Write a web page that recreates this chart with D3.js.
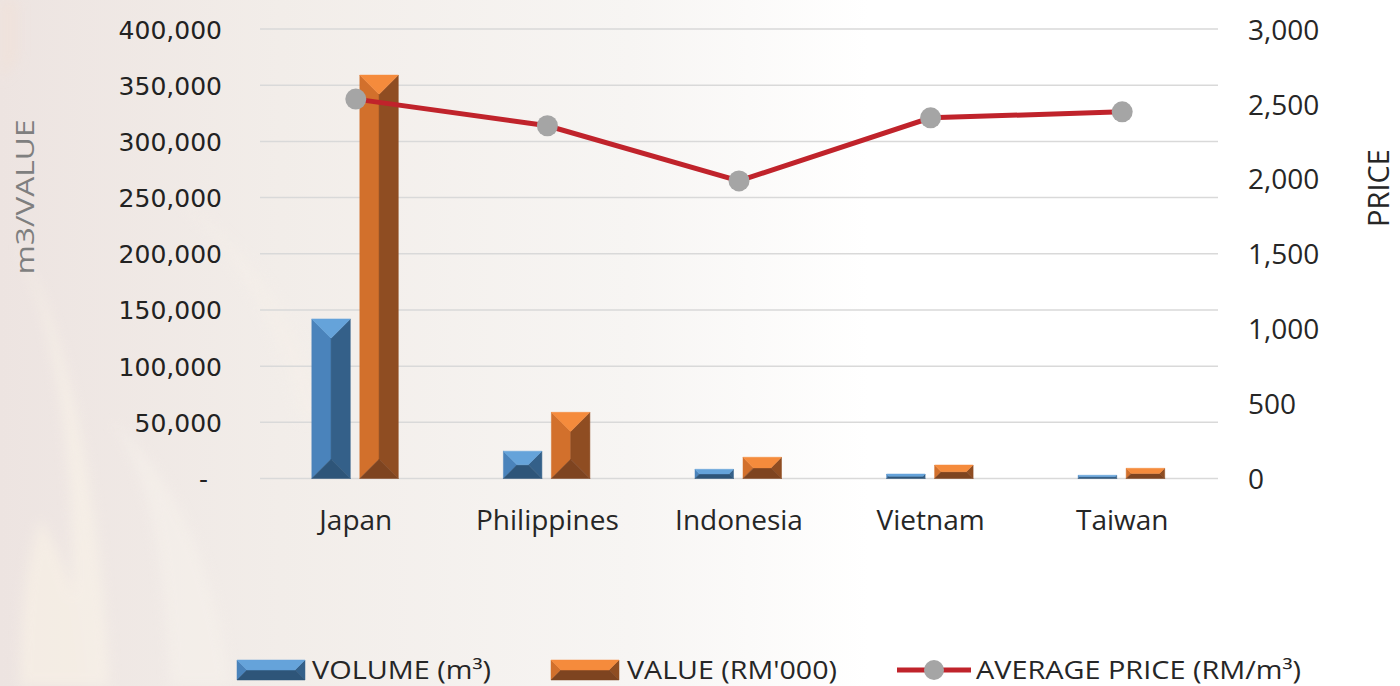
<!DOCTYPE html>
<html>
<head>
<meta charset="utf-8">
<script src="https://cdn.jsdelivr.net/npm/d3@7"></script>
<style>
  html, body { margin: 0; padding: 0; background: #ffffff; }
  svg { display: block; }
</style>
</head>
<body>
<svg id="chart" width="1400" height="686"></svg>
<script>
// data
const categories = ["Japan", "Philippines", "Indonesia", "Vietnam", "Taiwan"];
const volume = [142000, 24300, 8200, 4000, 2900];      // m3
const value = [359000, 58900, 18900, 12000, 9100];     // RM'000
const avgPrice = [2532, 2354, 1986, 2407, 2447];       // RM/m3
const leftTicks = [0, 50000, 100000, 150000, 200000, 250000, 300000, 350000, 400000];
const rightTicks = [0, 500, 1000, 1500, 2000, 2500, 3000];

const svg = d3.select("#chart");
const width = +svg.attr("width");
const height = +svg.attr("height");

const plot = { left: 260, right: 1218, top: 29, bottom: 478.5 };

// faded background picture
const defs = svg.append("defs");
const bg = defs.append("linearGradient").attr("id", "bgGrad")
    .attr("x1", 0).attr("x2", 1).attr("y1", 0).attr("y2", 0);
bg.append("stop").attr("offset", "0%").attr("stop-color", "#ede4e1");
bg.append("stop").attr("offset", "20%").attr("stop-color", "#f2ede9");
bg.append("stop").attr("offset", "45%").attr("stop-color", "#f7f5f3");
bg.append("stop").attr("offset", "62%").attr("stop-color", "#ffffff");
bg.append("stop").attr("offset", "100%").attr("stop-color", "#ffffff");
defs.append("filter").attr("id", "soft")
    .append("feGaussianBlur").attr("stdDeviation", 6);

svg.append("rect").attr("width", width).attr("height", height).attr("fill", "url(#bgGrad)");

const leaves = svg.append("g").attr("filter", "url(#soft)").attr("opacity", 0.6);
leaves.append("path")
    .attr("d", "M15,240 C60,330 80,480 70,686 L110,686 C100,500 70,330 15,240 Z")
    .attr("fill", "#f9f3e8");
leaves.append("path")
    .attr("d", "M40,520 C70,560 80,620 85,686 L20,686 C20,620 25,560 40,520 Z")
    .attr("fill", "#f9f2e6");
leaves.append("path")
    .attr("d", "M110,420 C150,470 165,560 170,686 L230,686 C215,560 170,470 110,420 Z")
    .attr("fill", "#f6f1eb");
leaves.append("path")
    .attr("d", "M0,0 L18,0 L18,60 L0,80 Z")
    .attr("fill", "#f1e1d8");
leaves.append("path")
    .attr("d", "M180,200 C240,260 280,330 300,420 L330,420 C300,320 250,250 180,200 Z")
    .attr("fill", "#f5efe9");

// scales
const x = d3.scaleBand().domain(categories).range([plot.left, plot.right]);
const yL = d3.scaleLinear().domain([0, 400000]).range([plot.bottom, plot.top]);
const yR = d3.scaleLinear().domain([0, 3000]).range([plot.bottom, plot.top]);
const cx = d => x(d) + x.bandwidth() / 2;

// gridlines
svg.append("g")
    .selectAll("line")
    .data(leftTicks)
    .enter()
    .append("line")
    .attr("x1", plot.left).attr("x2", plot.right)
    .attr("y1", d => yL(d)).attr("y2", d => yL(d))
    .attr("stroke", "#d9d9d9")
    .attr("stroke-width", 1.5);

// left axis
const leftAxis = svg.append("g")
    .attr("transform", `translate(${plot.left - 38},0)`)
    .call(d3.axisLeft(yL).tickValues(leftTicks).tickSize(0).tickPadding(0)
        .tickFormat(d => d === 0 ? "-" : d3.format(",")(d)));
leftAxis.select(".domain").remove();
leftAxis.selectAll("text")
    .attr("font-family", "'DejaVu Sans', Verdana, sans-serif")
    .attr("font-size", 25)
    .attr("fill", "#222222")
    .attr("dy", "0.36em")
    .attr("dx", d => d === 0 ? -14 : 0);

// right axis
const rightAxis = svg.append("g")
    .attr("transform", `translate(${plot.right + 30},0)`)
    .call(d3.axisRight(yR).tickValues(rightTicks).tickSize(0).tickPadding(0)
        .tickFormat(d3.format(",")));
rightAxis.select(".domain").remove();
rightAxis.selectAll("text")
    .attr("font-family", "'Open Sans', sans-serif")
    .attr("font-size", 28)
    .attr("fill", "#262626")
    .attr("dy", "0.36em");

// category labels
const xAxis = svg.append("g")
    .attr("transform", `translate(0,${plot.bottom})`)
    .call(d3.axisBottom(x).tickSize(0).tickPadding(0));
xAxis.select(".domain").remove();
xAxis.selectAll("text")
    .attr("font-family", "'Open Sans', sans-serif")
    .attr("font-size", 28)
    .attr("fill", "#262626")
    .attr("dy", 0)
    .attr("y", 51);

// axis titles
svg.append("text")
    .attr("transform", "translate(34,197) rotate(-90)")
    .attr("text-anchor", "middle")
    .attr("font-family", "'Open Sans', sans-serif")
    .attr("font-size", 26)
    .attr("fill", "#7f7f7f")
    .attr("textLength", 155)
    .attr("lengthAdjust", "spacingAndGlyphs")
    .text("m3/VALUE");

svg.append("text")
    .attr("transform", "translate(1389,188) rotate(-90)")
    .attr("text-anchor", "middle")
    .attr("font-family", "'Open Sans', sans-serif")
    .attr("font-size", 29)
    .attr("fill", "#262626")
    .text("PRICE");

// bevelled bar: four facets around a collapsed inner rectangle
function bevel(g, bx, by, bw, bh, c) {
    const b = Math.min(bw, bh) / 2;
    const x0 = bx, x1 = bx + bw, y0 = by, y1 = by + bh;
    const ix0 = x0 + b, ix1 = x1 - b, iy0 = y0 + b, iy1 = y1 - b;
    const faces = [
        { pts: [[x0, y0], [x0, y1], [ix0, iy1], [ix0, iy0]], fill: c.left },
        { pts: [[x1, y0], [x1, y1], [ix1, iy1], [ix1, iy0]], fill: c.right },
        { pts: [[x0, y1], [x1, y1], [ix1, iy1], [ix0, iy1]], fill: c.bottom },
        { pts: [[x0, y0], [x1, y0], [ix1, iy0], [ix0, iy0]], fill: c.top }
    ];
    g.selectAll(null)
        .data(faces)
        .enter()
        .append("polygon")
        .attr("points", d => d.pts.map(p => p.join(",")).join(" "))
        .attr("fill", d => d.fill)
        .attr("stroke", d => d.fill)
        .attr("stroke-width", 0.5);
}

const blue = { top: "#65a3da", left: "#4a83bb", right: "#346089", bottom: "#2e5579" };
const orange = { top: "#f58b3c", left: "#d2702c", right: "#8f4d22", bottom: "#7e4420" };

const series = [
    { key: "vol", values: volume, colors: blue },
    { key: "val", values: value, colors: orange }
];
const x1 = d3.scaleBand().domain(series.map(s => s.key))
    .range([-44, 42.5]).paddingInner(0.198);

const bars = svg.append("g");
series.forEach(s => {
    categories.forEach((cat, i) => {
        const top = yL(s.values[i]);
        bevel(bars, cx(cat) + x1(s.key), top, x1.bandwidth(), yL(0) - top, s.colors);
    });
});

// average price line
const line = d3.line()
    .x((d, i) => cx(categories[i]))
    .y(d => yR(d));

svg.append("path")
    .datum(avgPrice)
    .attr("d", line)
    .attr("fill", "none")
    .attr("stroke", "#c0232b")
    .attr("stroke-width", 5);

svg.append("g")
    .selectAll("circle")
    .data(avgPrice)
    .enter()
    .append("circle")
    .attr("cx", (d, i) => cx(categories[i]))
    .attr("cy", d => yR(d))
    .attr("r", 10.5)
    .attr("fill", "#a5a5a5");

// legend
const legend = svg.append("g");
const legendItems = [
    { label: "VOLUME (m³)", x: 237, textX: 312, len: 179, colors: blue },
    { label: "VALUE (RM'000)", x: 551, textX: 627, len: 210, colors: orange },
    { label: "AVERAGE PRICE (RM/m³)", x: 897, textX: 976, len: 325, line: true }
];
legendItems.forEach(d => {
    if (d.line) {
        legend.append("line")
            .attr("x1", d.x).attr("x2", d.x + 74)
            .attr("y1", 670).attr("y2", 670)
            .attr("stroke", "#c0232b").attr("stroke-width", 5);
        legend.append("circle")
            .attr("cx", d.x + 37).attr("cy", 670).attr("r", 10)
            .attr("fill", "#a5a5a5");
    } else {
        bevel(legend, d.x, 660, 68, 20, d.colors);
    }
    legend.append("text")
        .attr("x", d.textX)
        .attr("y", 679)
        .attr("font-family", "'Open Sans', sans-serif")
        .attr("font-size", 25)
        .attr("fill", "#262626")
        .attr("textLength", d.len)
        .attr("lengthAdjust", "spacingAndGlyphs")
        .text(d.label);
});
</script>
</body>
</html>
